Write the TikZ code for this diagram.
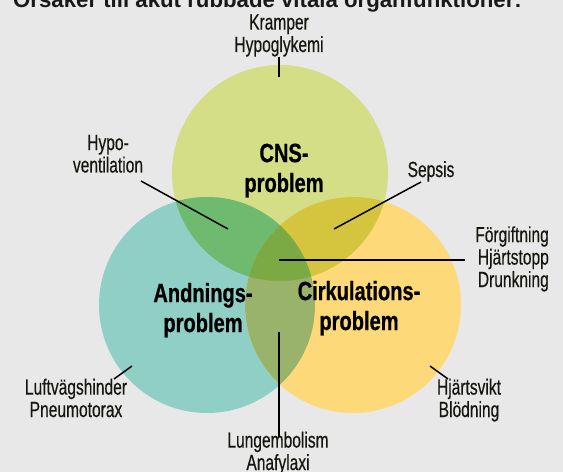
\documentclass[tikz,border=0pt]{standalone}
\usepackage{fontspec}
\setmainfont{Liberation Sans}
\newfontfamily\condfont[FakeStretch=0.71,FakeBold=0.35]{Liberation Sans}
\newfontfamily\condbold[FakeStretch=0.76,FakeBold=0.7]{Liberation Sans Bold}
\definecolor{bg}{HTML}{E8E8E8}
\definecolor{cT}{HTML}{D4DE87}
\definecolor{cL}{HTML}{90CFC6}
\definecolor{cR}{HTML}{FED97A}
\definecolor{cTL}{HTML}{6EBA6E}
\definecolor{cTR}{HTML}{D5C53E}
\definecolor{cLR}{HTML}{99B36A}
\definecolor{cC}{HTML}{7BA944}
\definecolor{ink}{HTML}{161610}
\tikzset{
  lbl/.style={inner sep=0pt, align=center, text=ink, font=\condfont\fontsize{22}{22.5}\selectfont, anchor=base},
  big/.style={inner sep=0pt, align=center, text=black, font=\condbold\fontsize{26.5}{30}\selectfont, anchor=base},
  lead/.style={draw=black, line width=1.5bp}
}
\begin{document}
\begin{tikzpicture}[x=1bp,y=-1bp]
\clip (0,0) rectangle (563,472);
\fill[bg] (0,0) rectangle (563,472);
% title (cut off at top)
\node[inner sep=0pt, anchor=base west, font=\bfseries\fontsize{22.3}{24}\selectfont, text=black!90] (title) at (13,8) {Orsaker till akut rubbade vitala organfunktioner:};
% circles
\def\cT{(280,173) circle (108)}
\def\cL{(207,305) circle (108)}
\def\cR{(353,305) circle (108)}
\fill[cT] \cT;
\fill[cL] \cL;
\fill[cR] \cR;
\begin{scope}\clip \cT; \fill[cTL] \cL; \end{scope}
\begin{scope}\clip \cT; \fill[cTR] \cR; \end{scope}
\begin{scope}\clip \cL; \fill[cLR] \cR; \end{scope}
\begin{scope}\clip \cT; \clip \cL; \fill[cC] \cR; \end{scope}
% big labels (base = last line)
\node[big] (cns) at (284,192) {CNS-\\problem};
\node[big] (andn) at (203,332) {Andnings-\\problem};
\node[big] (cirk) at (359,330) {Cirkulations-\\problem};
% small labels (base = last line)
\node[lbl] (kramper) at (279,52) {Kramper\\Hypoglykemi};
\node[lbl] (hypo) at (108,172.5) {Hypo-\\ventilation};
\node[lbl] (sepsis) at (431,177) {Sepsis};
\node[lbl, align=right, anchor=base east] (forg) at (549,287) {Förgiftning\\Hjärtstopp\\Drunkning};
\node[lbl] (luft) at (76,417) {Luftvägshinder\\Pneumotorax};
\node[lbl] (hjart) at (469,417) {Hjärtsvikt\\Blödning};
\node[lbl] (lung) at (278,470) {Lungembolism\\Anafylaxi};
% connector ends
\coordinate (k1) at (279,57); \coordinate (k2) at (279,77);
\coordinate (h1) at (141,181); \coordinate (h2) at (228,229);
\coordinate (s1) at (421,182); \coordinate (s2) at (334,229);
\coordinate (f1) at (465,260); \coordinate (f2) at (279,260);
\coordinate (l1) at (114,379); \coordinate (l2) at (132,366);
\coordinate (j1) at (448,379); \coordinate (j2) at (430,366);
\coordinate (u1) at (279,437); \coordinate (u2) at (279,332);
\draw[lead] (k1) -- (k2);
\draw[lead] (h1) -- (h2);
\draw[lead] (s1) -- (s2);
\draw[lead] (f1) -- (f2);
\draw[lead] (l1) -- (l2);
\draw[lead] (j1) -- (j2);
\draw[lead] (u1) -- (u2);
\end{tikzpicture}
\end{document}
